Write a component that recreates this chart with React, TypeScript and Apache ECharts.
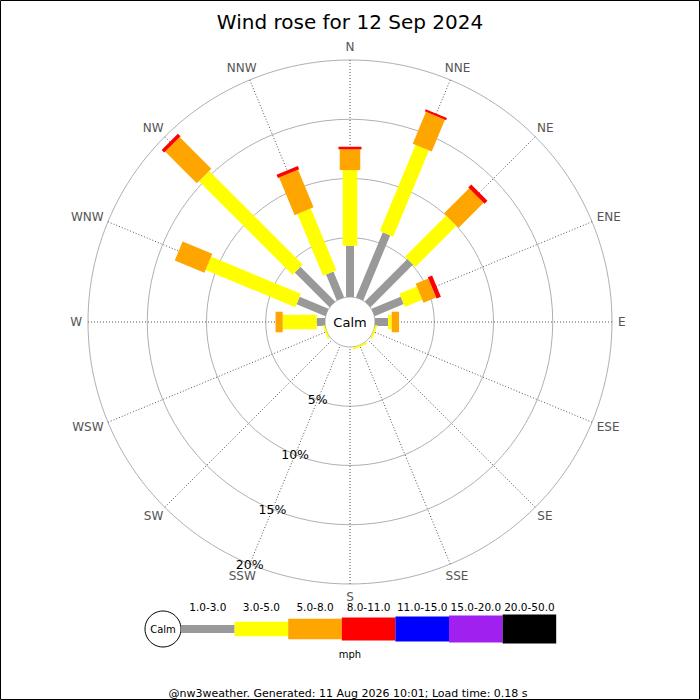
import React, { useEffect, useRef } from "react";
import * as echarts from "echarts";

// compass points, clockwise from north
const directions = ["N", "NNE", "NE", "ENE", "E", "ESE", "SE", "SSE", "S", "SSW", "SW", "WSW", "W", "WNW", "NW", "NNW"];
const speedBands = ["1.0-3.0", "3.0-5.0", "5.0-8.0", "8.0-11.0", "11.0-15.0", "15.0-20.0", "20.0-50.0"];

// % of the day per direction, one list per speed band (mph)
const band1to3 = [4.33, 5.94, 5.08, 2.66, 1.1, 0, 0, 0, 0, 0, 0, 0, 0.7, 2.63, 4.15, 2.36];
const band3to5 = [6.38, 7.88, 4.91, 1.59, 0.31, 0.15, 0, 0.15, 0, 0, 0, 0.15, 2.87, 8.2, 11.16, 5.65];
const band5to8 = [1.75, 2.91, 2.99, 1.15, 0.62, 0, 0, 0, 0, 0, 0, 0, 0.6, 2.71, 3.78, 3.43];
const band8to11 = [0.22, 0.19, 0.34, 0.39, 0, 0, 0, 0, 0, 0, 0, 0, 0, 0, 0.31, 0.3];
const band11to15 = [0, 0, 0, 0, 0, 0, 0, 0, 0, 0, 0, 0, 0, 0, 0, 0];
const band15to20 = [0, 0, 0, 0, 0, 0, 0, 0, 0, 0, 0, 0, 0, 0, 0, 0];
const band20to50 = [0, 0, 0, 0, 0, 0, 0, 0, 0, 0, 0, 0, 0, 0, 0, 0];

const pctTicks = [5, 10, 15, 20];

const bandColors = ["#999999", "#ffff00", "#ffa500", "#ff0000", "#0000ff", "#a020f0", "#000000"];
const bandWidths = [8, 14.5, 20.5, 23, 25, 27, 29];

const FONT = '"DejaVu Sans", sans-serif';
const CX = 350;
const CY = 322;
const STEP = 360 / directions.length;

const App: React.FC = () => {
  const chartRef = useRef<HTMLDivElement>(null);

  useEffect(() => {
    if (!chartRef.current) return;
    const chart = echarts.init(chartRef.current, undefined, { renderer: "svg" });

    const ctx = document.createElement("canvas").getContext("2d")!;
    ctx.font = "12px " + FONT;

    const bands = [band1to3, band3to5, band5to8, band8to11, band11to15, band15to20, band20to50];
    const cum = directions.map(() => 0);

    const barSeries = bands.map((vals, b) => {
      const data = vals.map((v, i) => {
        const base = cum[i];
        cum[i] += v;
        return [base, i * STEP, cum[i]];
      });
      const color = bandColors[b];
      const half = bandWidths[b] / 2;
      return {
        name: speedBands[b],
        type: "custom",
        coordinateSystem: "polar",
        silent: true,
        encode: { radius: [0, 2], angle: 1 },
        data,
        renderItem: (params: any, api: any) => {
          const base = api.value(0);
          const ang = api.value(1);
          const top = api.value(2);
          if (!(top - base > 0)) return null;
          const p0 = api.coord([base, ang]);
          const p1 = api.coord([top, ang]);
          const dx = p1[0] - p0[0];
          const dy = p1[1] - p0[1];
          const len = Math.hypot(dx, dy) || 1;
          const nx = (-dy / len) * half;
          const ny = (dx / len) * half;
          return {
            type: "polygon",
            shape: {
              points: [
                [p0[0] + nx, p0[1] + ny],
                [p1[0] + nx, p1[1] + ny],
                [p1[0] - nx, p1[1] - ny],
                [p0[0] - nx, p0[1] - ny],
              ],
            },
            style: { fill: color },
          };
        },
      };
    });

    // compass labels just outside the outer ring
    const dirLabels = {
      type: "custom",
      coordinateSystem: "polar",
      silent: true,
      encode: { radius: 0, angle: 1 },
      data: directions.map((_, i) => [20, i * STEP]),
      renderItem: (params: any, api: any) => {
        const p = api.coord([api.value(0), api.value(1)]);
        const cs = params.coordSys;
        const ux = (p[0] - cs.cx) / cs.r;
        const uy = (p[1] - cs.cy) / cs.r;
        const text = directions[params.dataIndex];
        const w = ctx.measureText(text).width;
        const h = 14;
        return {
          type: "text",
          x: p[0] + ux * 6 + (ux * w) / 2,
          y: p[1] + uy * 6 + (uy * h) / 2,
          style: {
            text,
            fill: "#555",
            font: "12px " + FONT,
            textAlign: "center",
            textVerticalAlign: "middle",
          },
        };
      },
    };

    // percentage labels along SSW
    const pctLabels = {
      type: "custom",
      coordinateSystem: "polar",
      silent: true,
      encode: { radius: 0, angle: 1 },
      data: pctTicks.map((v) => [v, 202.5]),
      renderItem: (params: any, api: any) => {
        const p = api.coord([api.value(0), api.value(1)]);
        return {
          type: "text",
          x: p[0],
          y: p[1],
          style: {
            text: pctTicks[params.dataIndex] + "%",
            fill: "#000",
            font: "12.5px " + FONT,
            textAlign: "center",
            textVerticalAlign: "middle",
          },
        };
      },
    };

    // legend drawn as a speed strip
    const legendX = 181;
    const legendY = 629;
    const segW = 53.6;
    const legend: any[] = [
      {
        type: "circle",
        shape: { cx: 163, cy: legendY, r: 18 },
        style: { fill: "#fff", stroke: "#000", lineWidth: 1 },
      },
      {
        type: "text",
        x: 163,
        y: legendY,
        style: { text: "Calm", fill: "#000", font: "10px " + FONT, textAlign: "center", textVerticalAlign: "middle" },
      },
    ];
    speedBands.forEach((label, i) => {
      legend.push({
        type: "rect",
        shape: { x: legendX + i * segW, y: legendY - bandWidths[i] / 2, width: segW, height: bandWidths[i] },
        style: { fill: bandColors[i] },
      });
      legend.push({
        type: "text",
        x: legendX + i * segW + segW / 2,
        y: 607,
        style: { text: label, fill: "#000", font: "10.5px " + FONT, textAlign: "center", textVerticalAlign: "middle" },
      });
    });

    chart.setOption({
      animation: false,
      backgroundColor: "#fff",
      polar: { center: [CX, CY], radius: [25, 262] },
      angleAxis: {
        type: "value",
        min: 0,
        max: 360,
        interval: STEP,
        startAngle: 90,
        clockwise: true,
        axisLine: { show: false },
        axisTick: { show: false },
        axisLabel: { show: false },
        splitLine: { show: true, lineStyle: { color: "#555", width: 1, type: [1, 2] } },
      },
      radiusAxis: {
        type: "value",
        min: 0,
        max: 20,
        interval: 5,
        axisLine: { show: false },
        axisTick: { show: false },
        axisLabel: { show: false },
        splitLine: { show: true, lineStyle: { color: "#b0b0b0", width: 1 } },
      },
      series: [...barSeries, dirLabels, pctLabels],
      graphic: [
        {
          type: "text",
          x: 350,
          y: 22,
          style: {
            text: "Wind rose for 12 Sep 2024",
            fill: "#000",
            font: "20px " + FONT,
            textAlign: "center",
            textVerticalAlign: "middle",
          },
        },
        {
          type: "text",
          x: CX,
          y: CY,
          style: { text: "Calm", fill: "#000", font: "13px " + FONT, textAlign: "center", textVerticalAlign: "middle" },
        },
        ...legend,
        {
          type: "text",
          x: 350,
          y: 654,
          style: { text: "mph", fill: "#000", font: "10px " + FONT, textAlign: "center", textVerticalAlign: "middle" },
        },
        {
          type: "text",
          x: 348,
          y: 693,
          style: {
            text: "@nw3weather. Generated: 11 Aug 2026 10:01; Load time: 0.18 s",
            fill: "#000",
            font: "11px " + FONT,
            textAlign: "center",
            textVerticalAlign: "middle",
          },
        },
        {
          type: "rect",
          shape: { x: 0.5, y: 0.5, width: 699, height: 699 },
          style: { fill: "none", stroke: "#000", lineWidth: 1 },
        },
      ],
    });

    return () => {
      chart.dispose();
    };
  }, []);

  return (
    <div
      ref={chartRef}
      style={{ position: "absolute", left: 0, top: 0, width: 700, height: 700 }}
    />
  );
};

export default App;
